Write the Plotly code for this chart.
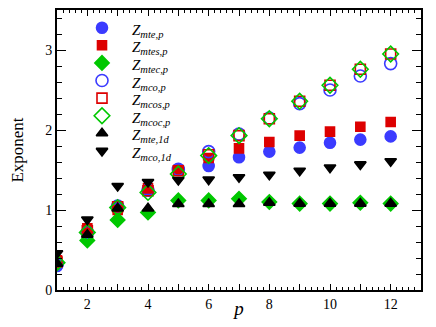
import plotly.graph_objects as go

# exponents
p = [1, 2, 3, 4, 5, 6, 7, 8, 9, 10, 11, 12]

z_mte_p = [0.30, 0.71, 1.05, 1.24, 1.50, 1.55, 1.66, 1.73, 1.78, 1.84, 1.88, 1.92]
z_mtes_p = [0.37, 0.77, 1.00, 1.27, 1.50, 1.65, 1.77, 1.85, 1.93, 1.98, 2.04, 2.10]
z_mtec_p = [0.34, 0.62, 0.875, 0.97, 1.12, 1.12, 1.14, 1.10, 1.08, 1.08, 1.09, 1.08]
z_mco_p = [0.32, 0.72, 1.05, 1.25, 1.51, 1.73, 1.95, 2.15, 2.33, 2.50, 2.675, 2.83]
z_mcos_p = [0.35, 0.74, 1.04, 1.24, 1.49, 1.69, 1.93, 2.14, 2.36, 2.56, 2.76, 2.95]
z_mcoc_p = [0.34, 0.72, 1.03, 1.22, 1.45, 1.68, 1.93, 2.14, 2.36, 2.56, 2.76, 2.95]
z_mte_1d = [0.33, 0.69, 1.02, 1.02, 1.075, 1.075, 1.075, 1.09, 1.08, 1.08, 1.08, 1.08]
z_mco_1d = [0.46, 0.88, 1.30, 1.35, 1.375, 1.38, 1.41, 1.44, 1.49, 1.53, 1.57, 1.61]

x_ticks = list(range(1, 14))
x_labels = [str(v) if v % 2 == 0 else "" for v in x_ticks]

blue = "#3b3bff"
red = "#dd0000"
green = "#00c800"

series = [
    (z_mte_p, "mte,p", "circle", blue, 11),
    (z_mtes_p, "mtes,p", "square", red, 9),
    (z_mtec_p, "mtec,p", "diamond", green, 11),
    (z_mco_p, "mco,p", "circle-open", blue, 12),
    (z_mcos_p, "mcos,p", "square-open", red, 10),
    (z_mcoc_p, "mcoc,p", "diamond-open", green, 12),
    (z_mte_1d, "mte,1d", "triangle-up", "black", 10),
    (z_mco_1d, "mco,1d", "triangle-down", "black", 10),
]

# legend drawn by hand on an overlay axis measured in plot pixels
plot_w, plot_h = 364, 280
leg_x, txt_x, leg_y0, leg_dy = 45, 73, 17.7, 17.6

fig = go.Figure()
for i, (vals, sub, sym, col, sz) in enumerate(series):
    name = "<i>Z</i><sub><i>" + sub + "</i></sub>"
    mk = dict(symbol=sym, color=col, size=sz, line=dict(color=col, width=1.6))
    fig.add_trace(go.Scatter(x=p, y=vals, mode="markers", name=name, marker=mk,
                             showlegend=False))
    ly = leg_y0 + i * leg_dy
    fig.add_trace(go.Scatter(x=[leg_x], y=[ly], mode="markers", marker=mk,
                             xaxis="x2", yaxis="y2", showlegend=False,
                             hoverinfo="skip"))
    fig.add_annotation(text=name, x=txt_x / plot_w, y=1 - ly / plot_h,
                       xref="paper", yref="paper", xanchor="left",
                       yanchor="middle", yshift=-3, showarrow=False,
                       font=dict(size=15))

font = "Liberation Serif, Times New Roman, serif"
# page body keeps its default 8px margin, so the figure is sized to fit inside
fig.update_layout(
    width=420, height=311,
    margin=dict(l=49, r=7, t=2, b=29),
    plot_bgcolor="white", paper_bgcolor="white",
    font=dict(family=font, size=14, color="black"),
    showlegend=False,
    xaxis=dict(
        range=[1, 13], tickvals=x_ticks, ticktext=x_labels,
        ticks="inside", ticklen=6, tickwidth=1.2, tickcolor="black",
        minor=dict(dtick=0.2, ticks="inside", ticklen=3, tickcolor="black"),
        showline=True, linecolor="black", linewidth=2, mirror="allticks",
        showgrid=False, zeroline=False, automargin=False,
        title=dict(text="<i>p</i>", font=dict(size=19), standoff=0),
    ),
    yaxis=dict(
        range=[0, 3.5], tickvals=[0, 1, 2, 3],
        ticks="inside", ticklen=9, tickwidth=1.2, tickcolor="black",
        minor=dict(dtick=0.2, ticks="inside", ticklen=5, tickcolor="black"),
        showline=True, linecolor="black", linewidth=2, mirror="allticks",
        showgrid=False, zeroline=False, automargin=False,
        title=dict(text="Exponent", font=dict(size=17), standoff=22),
    ),
    xaxis2=dict(overlaying="x", range=[0, plot_w], visible=False),
    yaxis2=dict(overlaying="y", range=[plot_h, 0], visible=False),
)

fig.write_html("out.html")
